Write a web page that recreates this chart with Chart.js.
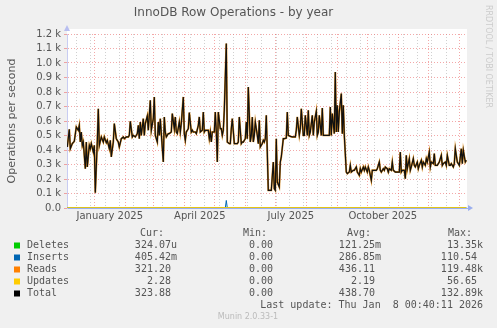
<!DOCTYPE html>
<html>
<head>
<meta charset="utf-8">
<title>InnoDB Row Operations - by year</title>
<script src="https://cdn.jsdelivr.net/npm/chart.js@4.4.0/dist/chart.umd.min.js"></script>
<style>
  html, body { margin: 0; padding: 0; background: #f0f0f0; }
  canvas { display: block; }
</style>
</head>
<body>
<canvas id="myChart" width="497" height="328"></canvas>
<script>
// x values are days counted from 1 Jan 2025 (the year graph is about 1 px per day)
const readDays = [
  -27, -25, -24, -22, -20, -18, -16, -15, -14, -13, -12, -11, -9, -8, -7, -5, -4, -3, -1, 0,
  1, 3, 4, 5, 7, 9, 10, 12, 13, 15, 16, 17, 19, 20, 22, 24, 25, 27, 29, 30,
  32, 34, 35, 36, 38, 39, 41, 43, 44, 45, 46, 47, 49, 50, 51, 53, 54, 55, 56, 57,
  59, 60, 61, 63, 64, 65, 66, 67, 69, 70, 71, 72, 74, 75, 77, 78, 80, 81, 82, 83,
  85, 86, 87, 89, 90, 91, 92, 94, 95, 97, 98, 99, 101, 102, 104, 105, 106, 108, 109, 110,
  111, 113, 114, 115, 116, 117, 118, 120, 121, 122, 123, 124, 126, 127, 128, 129, 130, 132, 133, 135,
  136, 137, 138, 140, 141, 143, 144, 145, 147, 148, 149, 151, 152, 153, 154, 156, 157, 158, 159, 160,
  161, 163, 164, 165, 166, 168, 169, 170, 171, 172, 174, 175, 177, 179, 180, 181, 182, 183, 185, 186,
  187, 189, 190, 192, 193, 194, 196, 198, 199, 201, 202, 203, 205, 206, 207, 209, 210, 211, 213, 214,
  215, 216, 218, 219, 220, 222, 223, 224, 225, 227, 228, 229, 231, 232, 233, 235, 236, 237, 238, 240,
  241, 242, 243, 244, 245, 247, 248, 249, 250, 252, 253, 255, 256, 257, 259, 260, 262, 263, 265, 266,
  267, 269, 270, 271, 273, 274, 275, 277, 278, 279, 281, 282, 283, 285, 286, 287, 289, 290, 291, 293,
  294, 295, 297, 298, 299, 301, 302, 303, 305, 306, 307, 308, 310, 311, 312, 313, 315, 316, 317, 319,
  320, 321, 323, 324, 325, 327, 328, 329, 331, 332, 333, 335, 336, 337, 339, 340, 341, 343, 344, 345,
  347, 348, 349, 351, 352, 353, 355, 356, 357, 359, 360, 361, 363, 364, 365, 367, 368, 369, 371, 372
];
const readsVals = [
  421, 543, 409, 444, 460, 559, 536, 570, 455, 524, 432, 455, 271, 455, 283, 432, 409, 444, 386, 432,
  106, 460, 685, 432, 490, 455, 490, 451, 467, 409, 467, 352, 455, 582, 478, 455, 421, 478, 490, 478,
  490, 490, 501, 598, 490, 501, 490, 513, 570, 478, 593, 501, 616, 501, 582, 635, 536, 639, 743, 536,
  616, 766, 501, 455, 593, 501, 616, 513, 317, 628, 524, 490, 513, 513, 524, 651, 547, 628, 524, 513,
  593, 524, 582, 766, 513, 467, 524, 547, 658, 524, 536, 524, 524, 513, 570, 628, 524, 536, 662, 524,
  536, 536, 536, 478, 524, 455, 524, 524, 662, 524, 317, 662, 547, 547, 501, 536, 674, 1134, 455, 444,
  444, 547, 616, 444, 444, 444, 455, 628, 444, 455, 455, 478, 593, 478, 835, 455, 501, 628, 455, 501,
  593, 501, 444, 605, 421, 444, 467, 455, 478, 639, 122, 122, 122, 317, 133, 122, 478, 179, 145, 317,
  352, 478, 478, 483, 662, 501, 494, 490, 490, 490, 536, 628, 501, 547, 685, 501, 501, 639, 501, 674,
  501, 524, 639, 501, 593, 667, 501, 524, 639, 501, 690, 501, 501, 501, 501, 501, 697, 501, 651, 513,
  938, 524, 708, 524, 662, 789, 513, 708, 501, 248, 237, 248, 294, 248, 260, 260, 283, 248, 225, 271,
  248, 283, 260, 283, 248, 283, 260, 191, 260, 260, 260, 260, 271, 317, 260, 248, 271, 260, 283, 271,
  248, 271, 260, 317, 260, 248, 248, 248, 248, 386, 248, 260, 260, 202, 363, 271, 340, 260, 283, 340,
  294, 283, 317, 271, 294, 329, 283, 317, 294, 340, 317, 386, 283, 317, 306, 375, 294, 294, 306, 317,
  363, 294, 306, 317, 294, 363, 294, 294, 306, 283, 306, 409, 317, 306, 294, 409, 306, 398, 317, 329
];
// at this scale the Total line lies on the Reads line
const totalVals = readsVals;

const insertDays = [-27, 131, 132, 133, 372];
const insertsVals = [0.3, 0.3, 52, 0.3, 0.4];
const updateDays = [-27, 132, 372];
const updatesVals = [2.2, 2.5, 2.3];
const deleteDays = [-27, 372];
const deletesVals = [0, 0];

// grid: red lines on month starts, grey lines in between
const monthStarts = [0, 31, 59, 90, 120, 151, 181, 212, 243, 273, 304, 334, 365];
const minorDays = [-18, -4, 11, 25, 39, 53, 68, 82, 96, 110, 125, 139, 153, 167, 182, 195,
  209, 223, 237, 252, 266, 280, 295, 309, 323, 337, 352];
const monthLabels = { 0: 'January 2025', 90: 'April 2025', 181: 'July 2025', 273: 'October 2025' };
const yTicks = [0, 100, 200, 300, 400, 500, 600, 700, 800, 900, 1000, 1100, 1200];

// legend table under the graph
const legendNames = ['Deletes', 'Inserts', 'Reads', 'Updates', 'Total'];
const legendColors = ['#00cc00', '#0066b3', '#ff8000', '#ffcc00', '#000000'];
const curVals = ['324.07u', '405.42m', '321.20 ', '2.28 ', '323.88 '];
const minVals = ['0.00 ', '0.00 ', '0.00 ', '0.00 ', '0.00 '];
const avgVals = ['121.25m', '286.85m', '436.11 ', '2.19 ', '438.70 '];
const maxVals = ['13.35k', '110.54 ', '119.48k', '56.65 ', '132.89k'];
const lastUpdate = 'Last update: Thu Jan  8 00:40:11 2026';

const TEXT = '#555555';
const MAJOR = 'rgba(235, 110, 110, 0.6)';
const MINOR = 'rgba(150, 150, 150, 0.45)';

function pts(xs, ys) {
  return xs.map(function (x, i) { return { x: x, y: ys[i] }; });
}

const rrdBackground = {
  id: 'rrdBackground',
  beforeDraw(chart) {
    const ctx = chart.ctx, a = chart.chartArea;
    ctx.save();
    ctx.fillStyle = '#f0f0f0';
    ctx.fillRect(0, 0, chart.width, chart.height);
    ctx.fillStyle = '#ffffff';
    ctx.fillRect(a.left, a.top - 5, a.right - a.left, a.bottom - a.top + 5);
    ctx.restore();
  }
};

const rrdExtras = {
  id: 'rrdExtras',
  afterDraw(chart) {
    const ctx = chart.ctx, a = chart.chartArea;
    ctx.save();
    // axis arrows
    ctx.fillStyle = '#b8bef0';
    ctx.beginPath();
    ctx.moveTo(a.left, a.top - 9);
    ctx.lineTo(a.left - 3, a.top - 3);
    ctx.lineTo(a.left + 3, a.top - 3);
    ctx.fill();
    ctx.fillStyle = '#9aaeee';
    ctx.beginPath();
    ctx.moveTo(a.right + 6, a.bottom);
    ctx.lineTo(a.right + 1, a.bottom - 3);
    ctx.lineTo(a.right + 1, a.bottom + 3);
    ctx.fill();

    // legend table
    ctx.font = '10px "DejaVu Sans Mono"';
    ctx.fillStyle = TEXT;
    ctx.textBaseline = 'middle';
    ctx.textAlign = 'left';
    ctx.fillText('Cur:', 140, 233);
    ctx.fillText('Min:', 243, 233);
    ctx.fillText('Avg:', 347, 233);
    ctx.fillText('Max:', 448, 233);
    for (let i = 0; i < legendNames.length; i++) {
      const y = 245.5 + i * 12;
      ctx.fillStyle = legendColors[i];
      ctx.fillRect(14, y - 3, 6, 6);
      ctx.fillStyle = TEXT;
      ctx.textAlign = 'left';
      ctx.fillText(legendNames[i], 27, y);
      ctx.textAlign = 'right';
      ctx.fillText(curVals[i], 177, y);
      ctx.fillText(minVals[i], 279, y);
      ctx.fillText(avgVals[i], 381, y);
      ctx.fillText(maxVals[i], 483, y);
    }
    ctx.textAlign = 'right';
    ctx.fillText(lastUpdate, 483, 305.5);

    // footer and side credit
    ctx.font = '8px "DejaVu Sans"';
    ctx.fillStyle = '#bbbbbb';
    ctx.textAlign = 'center';
    ctx.fillText('Munin 2.0.33-1', 248, 317);
    ctx.fillStyle = '#cccccc';
    ctx.translate(488.5, 5);
    ctx.rotate(Math.PI / 2);
    ctx.textAlign = 'left';
    ctx.fillText('RRDTOOL / TOBI OETIKER', 0, 0);
    ctx.restore();
  }
};

const data = {
  datasets: [{
    label: 'Total',
    data: pts(readDays, totalVals),
    borderColor: '#111111',
    borderWidth: 1.2,
    order: 0
  }, {
    label: 'Updates',
    data: pts(updateDays, updatesVals),
    borderColor: '#ffcc00',
    borderWidth: 1,
    order: 1
  }, {
    label: 'Reads',
    data: pts(readDays, readsVals),
    borderColor: '#d98a1c',
    borderWidth: 1.9,
    order: 2
  }, {
    label: 'Inserts',
    data: pts(insertDays, insertsVals),
    borderColor: '#0066b3',
    borderWidth: 1,
    order: 3
  }, {
    label: 'Deletes',
    data: pts(deleteDays, deletesVals),
    borderColor: '#00cc00',
    borderWidth: 1,
    order: 4
  }]
};

const config = {
  type: 'line',
  data: data,
  plugins: [rrdBackground, rrdExtras],
  options: {
    responsive: false,
    animation: false,
    events: [],
    layout: { padding: { left: 0, right: 30, top: 0, bottom: 105 } },
    elements: {
      point: { radius: 0 },
      line: { tension: 0, fill: false }
    },
    plugins: {
      legend: { display: false },
      tooltip: { enabled: false },
      title: {
        display: true,
        text: 'InnoDB Row Operations - by year',
        color: TEXT,
        font: { family: 'DejaVu Sans', size: 12, weight: 'normal' },
        padding: { top: 6, bottom: 13.6 }
      }
    },
    scales: {
      x: {
        type: 'linear',
        min: -27.3,
        max: 372.7,
        afterFit(scale) { scale.height = 15; },
        afterBuildTicks(scale) {
          scale.ticks = monthStarts.concat(minorDays)
            .sort(function (a, b) { return a - b; })
            .map(function (v) { return { value: v }; });
        },
        ticks: {
          autoSkip: false,
          maxRotation: 0,
          padding: 2,
          labelOffset: 15.5,
          color: TEXT,
          font: { family: 'DejaVu Sans', size: 10 },
          callback: function (v) { return monthLabels[v] || ''; }
        },
        grid: {
          drawTicks: false,
          color: function (ctx) {
            return ctx.tick && monthStarts.indexOf(ctx.tick.value) >= 0 ? MAJOR : MINOR;
          }
        },
        border: { color: '#9aaeee', width: 1, dash: [1, 2] }
      },
      y: {
        min: 0,
        max: 1200,
        afterFit(scale) { scale.width = 67; },
        afterBuildTicks(scale) {
          scale.ticks = yTicks.map(function (v) { return { value: v }; });
        },
        title: {
          display: true,
          text: 'Operations per second',
          color: TEXT,
          font: { family: 'DejaVu Sans', size: 11 },
          padding: { top: 6, bottom: 0 }
        },
        ticks: {
          autoSkip: false,
          padding: 3,
          color: TEXT,
          font: { family: 'DejaVu Sans', size: 10 },
          callback: function (v) { return v === 0 ? '0.0' : (v / 1000).toFixed(1) + ' k'; }
        },
        grid: { color: MAJOR, tickLength: 3, tickColor: MAJOR },
        border: { color: '#c8ccf2', width: 1, dash: [1, 2] }
      }
    }
  }
};

var ctx = document.getElementById('myChart').getContext('2d');
var myChart = new Chart(ctx, config);
</script>
</body>
</html>
